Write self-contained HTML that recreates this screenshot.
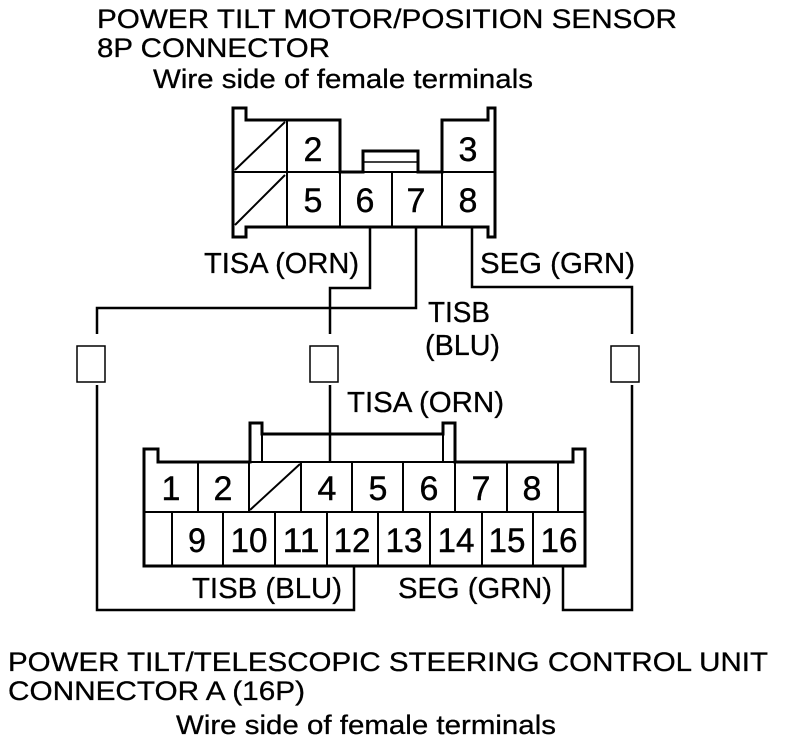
<!DOCTYPE html>
<html><head><meta charset="utf-8"><style>html,body{margin:0;padding:0;background:#fff}svg{display:block}</style></head>
<body>
<svg width="800" height="746" viewBox="0 0 800 746" xmlns="http://www.w3.org/2000/svg" font-family="Liberation Sans, Arial, sans-serif" fill="#000">
<g font-size="27" stroke="#000" stroke-width="0.3">
<text x="97" y="28" textLength="580" lengthAdjust="spacingAndGlyphs">POWER TILT MOTOR/POSITION SENSOR</text>
<text x="97" y="57" textLength="233" lengthAdjust="spacingAndGlyphs">8P CONNECTOR</text>
<text x="153" y="88" textLength="380" lengthAdjust="spacingAndGlyphs">Wire side of female terminals</text>
<text x="8" y="671" textLength="760" lengthAdjust="spacingAndGlyphs">POWER TILT/TELESCOPIC STEERING CONTROL UNIT</text>
<text x="8" y="700" textLength="297" lengthAdjust="spacingAndGlyphs">CONNECTOR A (16P)</text>
<text x="176" y="734" textLength="380" lengthAdjust="spacingAndGlyphs">Wire side of female terminals</text>
</g>
<g fill="none" stroke="#000">
<path d="M233,108 H246 V120 H340 V172 H363 V151 H418 V172 H442 V120 H488 V108 H495 V237 H488 V227 H246 V237 H233 Z" stroke-width="3"/>
<line x1="363" y1="162" x2="418" y2="162" stroke-width="1.5"/>
<g stroke-width="2">
<line x1="233" y1="172" x2="340" y2="172"/>
<line x1="418" y1="172" x2="495" y2="172"/>
<line x1="340" y1="172" x2="442" y2="172"/>
<line x1="287" y1="120" x2="287" y2="227"/>
<line x1="340" y1="172" x2="340" y2="227"/>
<line x1="392" y1="172" x2="392" y2="227"/>
<line x1="442" y1="120" x2="442" y2="227"/>
<line x1="235" y1="170" x2="285" y2="122"/>
<line x1="235" y1="225" x2="285" y2="175"/>
</g>
<path d="M144,566 V449 H158 V462 H250 V423 H262 V434 H443 V423 H455 V462 H573 V449 H585 V566 Z" stroke-width="3"/>
<g stroke-width="2">
<line x1="250" y1="462" x2="455" y2="462"/>
<line x1="262" y1="434" x2="262" y2="462"/>
<line x1="443" y1="434" x2="443" y2="462"/>
<line x1="144" y1="512" x2="585" y2="512"/>
<line x1="198" y1="462" x2="198" y2="512"/>
<line x1="249" y1="462" x2="249" y2="512"/>
<line x1="301" y1="462" x2="301" y2="512"/>
<line x1="352" y1="462" x2="352" y2="512"/>
<line x1="403" y1="462" x2="403" y2="512"/>
<line x1="455" y1="462" x2="455" y2="512"/>
<line x1="507" y1="462" x2="507" y2="512"/>
<line x1="558" y1="462" x2="558" y2="512"/>
<line x1="172" y1="512" x2="172" y2="566"/>
<line x1="223" y1="512" x2="223" y2="566"/>
<line x1="275" y1="512" x2="275" y2="566"/>
<line x1="327" y1="512" x2="327" y2="566"/>
<line x1="378" y1="512" x2="378" y2="566"/>
<line x1="430" y1="512" x2="430" y2="566"/>
<line x1="482" y1="512" x2="482" y2="566"/>
<line x1="533" y1="512" x2="533" y2="566"/>
<line x1="250" y1="510" x2="300" y2="464"/>
</g>
<g stroke-width="2.5">
<polyline points="370,227 370,288 330,288 330,334"/>
<polyline points="416,227 416,308 97,308 97,334"/>
<polyline points="472,227 472,287 632,287 632,334"/>
<line x1="330" y1="385" x2="330" y2="462"/>
<polyline points="97,385 97,610 354,610 354,566"/>
<polyline points="632,385 632,610 563,610 563,566"/>
</g>
<g stroke-width="1.5">
<rect x="77" y="346" width="28" height="36"/>
<rect x="310" y="346" width="28" height="36"/>
<rect x="611" y="346" width="28" height="36"/>
</g>
</g>
<g font-size="34" text-anchor="middle" stroke="#000" stroke-width="0.4">
<text x="313" y="161">2</text><text x="468" y="161">3</text>
<text x="313" y="212">5</text><text x="365" y="212">6</text><text x="416" y="212">7</text><text x="468" y="212">8</text>
<text x="171" y="500">1</text><text x="223" y="500">2</text><text x="327" y="500">4</text><text x="378" y="500">5</text><text x="429" y="500">6</text><text x="481" y="500">7</text><text x="532" y="500">8</text>
<text x="197" y="552" textLength="18" lengthAdjust="spacingAndGlyphs">9</text><text x="249" y="552" textLength="37" lengthAdjust="spacingAndGlyphs">10</text><text x="301" y="552" textLength="37" lengthAdjust="spacingAndGlyphs">11</text><text x="352" y="552" textLength="37" lengthAdjust="spacingAndGlyphs">12</text><text x="404" y="552" textLength="37" lengthAdjust="spacingAndGlyphs">13</text><text x="456" y="552" textLength="37" lengthAdjust="spacingAndGlyphs">14</text><text x="507" y="552" textLength="37" lengthAdjust="spacingAndGlyphs">15</text><text x="559" y="552" textLength="37" lengthAdjust="spacingAndGlyphs">16</text>
</g>
<g font-size="29" stroke="#000" stroke-width="0.3">
<text x="204" y="273" textLength="155" lengthAdjust="spacingAndGlyphs">TISA (ORN)</text>
<text x="480" y="273" textLength="155" lengthAdjust="spacingAndGlyphs">SEG (GRN)</text>
<text x="428" y="322" textLength="62" lengthAdjust="spacingAndGlyphs">TISB</text>
<text x="425" y="355" textLength="75" lengthAdjust="spacingAndGlyphs">(BLU)</text>
<text x="347" y="412" textLength="157" lengthAdjust="spacingAndGlyphs">TISA (ORN)</text>
<text x="192" y="598" textLength="150" lengthAdjust="spacingAndGlyphs">TISB (BLU)</text>
<text x="398" y="598" textLength="154" lengthAdjust="spacingAndGlyphs">SEG (GRN)</text>
</g>
</svg>
</body></html>
